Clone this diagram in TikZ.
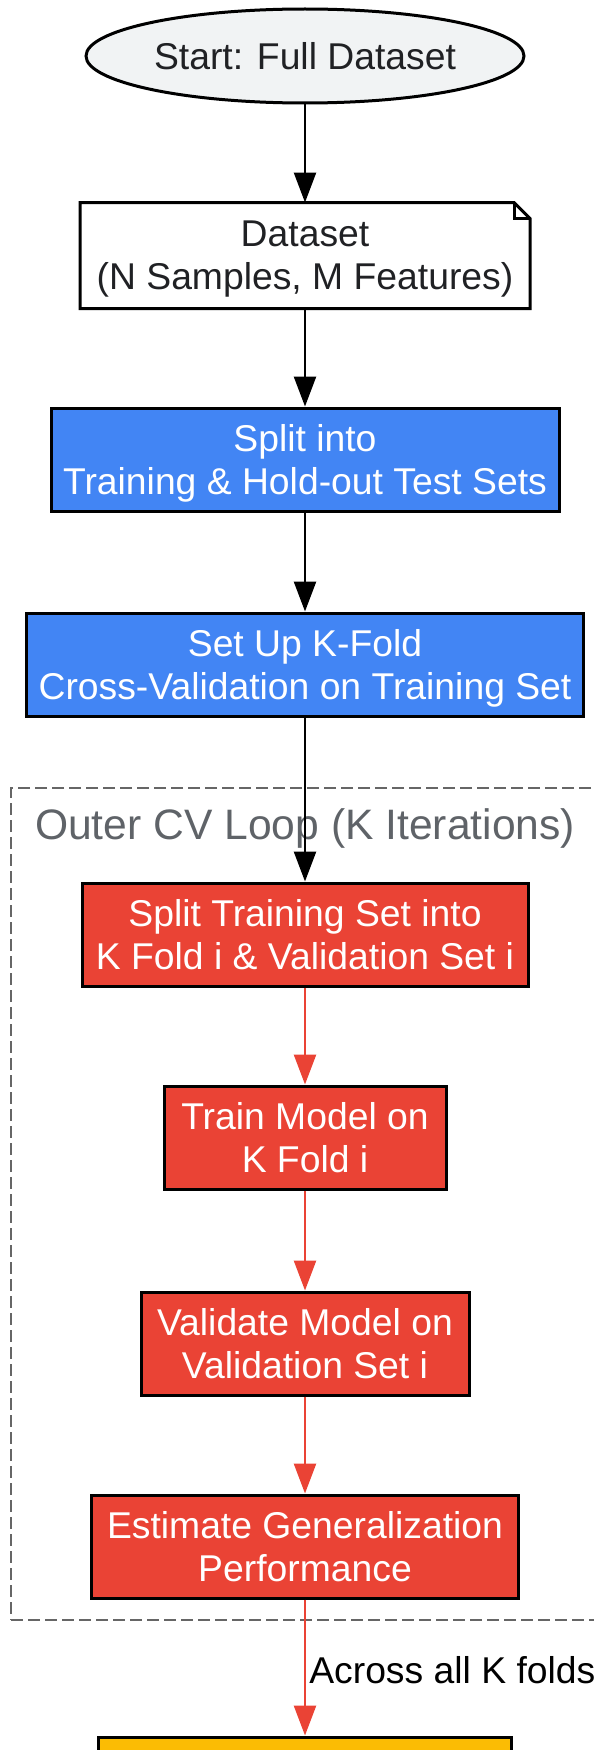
\documentclass[tikz,border=0pt]{standalone}
\usepackage{fontspec}
\setmainfont{Liberation Sans}
\usepackage{tikz}
\usetikzlibrary{shapes,arrows.meta,positioning}

\definecolor{startgray}{HTML}{F1F3F4}
\definecolor{darktext}{HTML}{202124}
\definecolor{stepblue}{HTML}{4285F4}
\definecolor{stepred}{HTML}{EA4335}
\definecolor{stepyellow}{HTML}{FBBC04}
\definecolor{loopgray}{HTML}{666666}
\definecolor{looplabel}{HTML}{5F6368}

\begin{document}
\begin{tikzpicture}[x=1pt,y=1pt,->,>={Triangle[length=30pt,width=22pt]},line width=2.6pt,node distance=98pt,
  every node/.style={font=\fontsize{37.3}{43}\selectfont, align=center},
  main node/.style={draw, line width=3pt, rectangle, inner xsep=10pt, inner ysep=12pt, minimum height=103pt, text depth=0pt},
  blue node/.style={main node, fill=stepblue, text=white},
  red node/.style={main node, fill=stepred, text=white},
  loop box/.style={draw=loopgray, line width=2pt, dash pattern=on 12pt off 5pt, rectangle, inner sep=0pt}]
				\useasboundingbox (0,0) rectangle (594,-1750);
				\node[draw, ellipse, line width=3pt, fill=startgray, text=darktext, minimum width=438pt, minimum height=94pt, inner sep=0pt] (start) at (305,-56) {Start: Full Dataset};
				
				\node[main node, draw=none, outer sep=0pt, text=darktext, minimum width=450pt, minimum height=106pt] (data) [below=of start]{Dataset\\(N Samples, M Features)};
				\draw[-, line width=3pt] (data.south west) -- (data.north west) -- ([xshift=-16pt]data.north east) -- ([yshift=-16pt]data.north east) -- (data.south east) -- cycle;
				\draw[-, line width=3pt] ([xshift=-16pt]data.north east) |- ([yshift=-16pt]data.north east);
				
				\node[blue node, minimum width=508pt] (split) [below=of data]{Split into\\Training \& Hold-out Test Sets};
				\node[blue node, minimum width=557pt] (setup) [below=99pt of split]{Set Up K-Fold\\Cross-Validation on Training Set};
				
				\node[loop box, minimum width=588pt, minimum height=832pt] (outer) at (305,-1204) {};
				\node[anchor=base, inner sep=0pt, text=looplabel, font=\fontsize{42.6}{51}\selectfont] (outerlabel) at ([yshift=-52pt]outer.north) {Outer CV Loop (K Iterations)};
				
				\node[red node, minimum width=446pt] (folds) [below=164pt of setup]{Split Training Set into\\K Fold i \& Validation Set i};
				\node[red node, minimum width=282pt] (train) [below=97pt of folds]{Train Model on\\K Fold i};
				\node[red node, minimum width=328pt] (valid) [below=100pt of train]{Validate Model on\\Validation Set i};
				\node[red node, minimum width=427pt] (estimate) [below=97pt of valid]{Estimate Generalization\\Performance};
				
				\node[main node, fill=stepyellow, minimum width=413pt] (final) [below=136pt of estimate]{};
				
				\path
				(start) edge (data)
				(data) edge (split)
				(split) edge (setup)
				(setup) edge (folds)
				(folds) edge [stepred] (train)
				(train) edge [stepred] (valid)
				(valid) edge [stepred] (estimate)
				(estimate) edge [stepred] node [anchor=west, inner sep=0pt, xshift=3pt, yshift=-3pt, text=black] {Across all K folds} (final);
				
				\end{tikzpicture}
\end{document}
